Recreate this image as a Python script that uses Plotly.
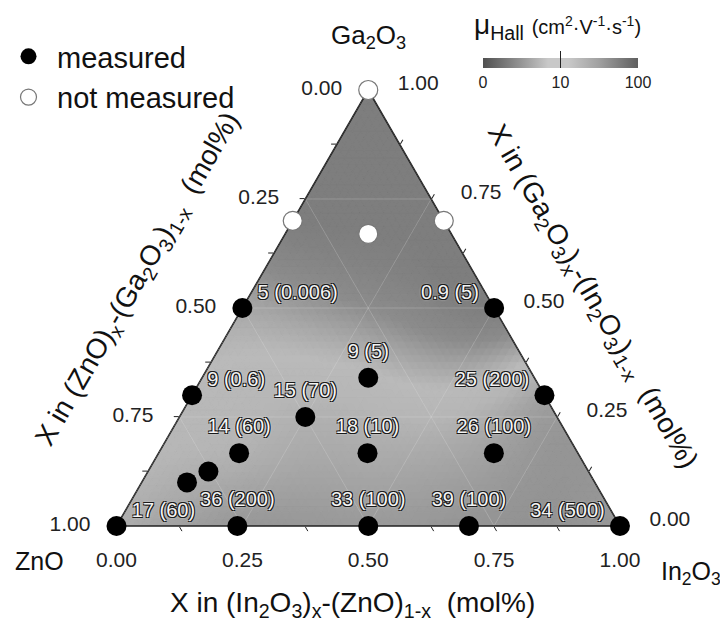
import numpy as np
import plotly.graph_objects as go

# ---------------- data (mole fractions) ----------------
# measured films: Ga2O3 fraction (top vertex) and In2O3 fraction (bottom-right vertex)
meas_ga2o3 = [0.0, 0.0, 0.0, 0.0, 0.0, 0.5, 0.5, 0.3, 0.3, 0.34, 0.25, 0.167, 0.167, 0.167, 0.125, 0.10]
meas_in2o3 = [0.0, 0.24, 0.5, 0.7, 1.0, 0.0, 0.5, 0.0, 0.7, 0.33, 0.25, 0.415, 0.666, 0.16, 0.12, 0.09]
# label values "mu (value)"
mu_hall = [17, 36, 33, 39, 34, 5, 0.9, 9, 25, 9, 15, 18, 26, 14, None, None]
paren_val = [60, 200, 100, 100, 500, 0.006, 5, 0.6, 200, 5, 70, 10, 100, 60, None, None]
label_pos = ["top right", "top center", "top center", "top center", "top left",
             "top right", "top left", "top right", "top left", "top center",
             "top center", "top center", "top center", "top center", "top center", "top center"]

# films that could not be measured
nm_ga2o3 = [1.0, 0.7, 0.7, 0.67]
nm_in2o3 = [0.0, 0.0, 0.3, 0.165]

# axis ticks
tick_vals = [0, 0.125, 0.25, 0.375, 0.5, 0.625, 0.75, 0.875, 1.0]
major_ticks = [0.25, 0.5, 0.75]
labelled_ticks = [0, 0.25, 0.5, 0.75, 1.0]
cbar_vals = [0, 1, 2]
cbar_text = ["0", "10", "100"]

FONT = "Liberation Sans, Arial, sans-serif"
W, H = 720, 615          # figure size (page adds an 8 px body margin)
OFF = 8


def PX(sx):
    return (sx - OFF) / W


def PY(sy):
    return 1 - (sy - OFF) / H


meas_zno = [round(1 - a - c, 4) for a, c in zip(meas_ga2o3, meas_in2o3)]
nm_zno = [round(1 - a - c, 4) for a, c in zip(nm_ga2o3, nm_in2o3)]

# ---------------- colour scales (log10 mu -> gray) ----------------
bar_stops = [(0.0, 80), (0.25, 150), (0.42, 200), (0.55, 200), (0.75, 160), (1.0, 95)]
bar_colorscale = [[p, f"rgb({g},{g},{g})"] for p, g in bar_stops]
map_stops = [(0.0, 126), (0.2, 140), (0.45, 186), (0.55, 182), (0.8, 148), (1.0, 128)]


def gray_of(v):
    t = min(max(v / 2.0, 0.0), 1.0)
    return float(np.interp(t, [p for p, _ in map_stops], [g for _, g in map_stops]))


# ---------------- interpolated mobility map (thin-plate spline on log mu) ----------------
def xy(a, c):
    a = np.asarray(a, float)
    c = np.asarray(c, float)
    return np.stack([c + a / 2.0, a * np.sqrt(3) / 2.0], axis=-1)


src_a, src_c, src_v = [], [], []
for a, c, m in zip(meas_ga2o3, meas_in2o3, mu_hall):
    if m is not None:
        src_a.append(a); src_c.append(c); src_v.append(np.log10(max(m, 1.0)))
for a, c in zip(nm_ga2o3, nm_in2o3):
    src_a.append(a); src_c.append(c); src_v.append(0.0)

P = xy(src_a, src_c)
v = np.array(src_v)
n = len(v)


def tps_kernel(r):
    with np.errstate(divide="ignore", invalid="ignore"):
        k = r ** 2 * np.log(r)
    k[r == 0] = 0.0
    return k


D = np.linalg.norm(P[:, None, :] - P[None, :, :], axis=-1)
K = tps_kernel(D) + 0.002 * np.eye(n)
Pm = np.hstack([np.ones((n, 1)), P])
A = np.zeros((n + 3, n + 3))
A[:n, :n] = K
A[:n, n:] = Pm
A[n:, :n] = Pm.T
coef = np.linalg.solve(A, np.concatenate([v, np.zeros(3)]))


def field(a, c):
    q = xy(a, c).reshape(-1, 2)
    r = np.linalg.norm(q[:, None, :] - P[None, :, :], axis=-1)
    return tps_kernel(r) @ coef[:n] + coef[n] + q @ coef[n + 1:]


N = 64
tris = []
for i in range(N):
    for j in range(N - i):
        tris.append([(i, j), (i + 1, j), (i, j + 1)])
        if i + j <= N - 2:
            tris.append([(i + 1, j), (i + 1, j + 1), (i, j + 1)])

cent_c = np.array([sum(p[0] for p in t) / 3 / N for t in tris])
cent_a = np.array([sum(p[1] for p in t) / 3 / N for t in tris])
vals = field(cent_a, cent_c)
levels = np.round(np.array([gray_of(x) for x in vals]))

fig = go.Figure()

for lev in sorted(set(levels)):
    aa, bb, cc = [], [], []
    for t, l in zip(tris, levels):
        if l != lev:
            continue
        for p in t + [t[0]]:
            ci, ai = p[0] / N, p[1] / N
            aa.append(ai); cc.append(ci); bb.append(1 - ai - ci)
        aa.append(None); bb.append(None); cc.append(None)
    g = int(lev)
    col = f"rgb({g},{g},{g})"
    fig.add_trace(go.Scatterternary(
        a=aa, b=bb, c=cc, mode="lines", fill="toself", fillcolor=col,
        line=dict(color=col, width=0.8), hoverinfo="skip", showlegend=False))

# faint grid lines at the major ticks
grid_a, grid_b, grid_c = [], [], []
for t in major_ticks:
    grid_a += [t, t, None]; grid_b += [1 - t, 0, None]; grid_c += [0, 1 - t, None]
    grid_a += [1 - t, 0, None]; grid_b += [t, t, None]; grid_c += [0, 1 - t, None]
    grid_a += [1 - t, 0, None]; grid_b += [0, 1 - t, None]; grid_c += [t, t, None]
fig.add_trace(go.Scatterternary(
    a=grid_a, b=grid_b, c=grid_c, mode="lines",
    line=dict(color="rgba(235,235,235,0.22)", width=1),
    hoverinfo="skip", showlegend=False))

# triangle frame (drawn above the map, below the points)
corners = [(1, 0, 0), (0, 1, 0), (0, 0, 1), (1, 0, 0)]
fig.add_trace(go.Scatterternary(
    a=[k[0] for k in corners], b=[k[1] for k in corners], c=[k[2] for k in corners],
    mode="lines", line=dict(color="#222", width=1.6), hoverinfo="skip",
    showlegend=False, cliponaxis=False))

# colour bar carrier (invisible marker)
fig.add_trace(go.Scatterternary(
    a=meas_ga2o3[:1], b=meas_zno[:1], c=meas_in2o3[:1], mode="markers",
    marker=dict(size=1, opacity=0, color=[1], cmin=0, cmax=2, colorscale=bar_colorscale,
                showscale=True,
                colorbar=dict(orientation="h", x=PX(560.5), xanchor="center",
                              y=PY(58), yanchor="top", len=155 / W,
                              lenmode="fraction", thickness=10, xpad=0, ypad=0,
                              outlinewidth=0, tickmode="array", tickvals=cbar_vals,
                              ticktext=cbar_text, ticks="inside", ticklen=17,
                              tickwidth=1.2, tickcolor="#222",
                              tickfont=dict(family=FONT, size=16, color="#222"))),
    hoverinfo="skip", showlegend=False))

# measured points
fig.add_trace(go.Scatterternary(
    a=meas_ga2o3, b=meas_zno, c=meas_in2o3, mode="markers", name="measured",
    legendgroup="m", marker=dict(size=20, color="black", line=dict(width=0)),
    cliponaxis=False))

# not measured points
fig.add_trace(go.Scatterternary(
    a=nm_ga2o3, b=nm_zno, c=nm_in2o3, mode="markers", name="not measured",
    legendgroup="n", marker=dict(size=19, color="white", line=dict(width=1.2, color="#777")),
    cliponaxis=False))

# value labels (an invisible marker sets the distance of each label from its point)
NB = "\u00a0"
labels, lab_size = [], []
for m, p, pos in zip(mu_hall, paren_val, label_pos):
    if m is None:
        labels.append(""); lab_size.append(0)
        continue
    txt = f"{m:g} ({p:g})"
    if pos == "top right":
        txt = NB * 2 + txt; lab_size.append(5)
    elif pos == "top left":
        txt = txt + NB * 2; lab_size.append(5)
    else:
        lab_size.append(22)
    labels.append(txt)

fig.add_trace(go.Scatterternary(
    a=meas_ga2o3, b=meas_zno, c=meas_in2o3, mode="markers+text", text=labels,
    textposition=label_pos, marker=dict(size=lab_size, opacity=0),
    showlegend=False, hoverinfo="skip", cliponaxis=False,
    textfont=dict(family=FONT, size=20, color="#f4f4f4",
                  shadow="1px 1px 0 #1a1a1a, -1px -1px 0 #1a1a1a, 1px -1px 0 #1a1a1a, "
                         "-1px 1px 0 #1a1a1a, 0 0 3px #ffffff")))

# bottom tick labels, pushed below the edge by an invisible marker
fig.add_trace(go.Scatterternary(
    a=[0] * len(labelled_ticks), b=[1 - t for t in labelled_ticks], c=labelled_ticks,
    mode="markers+text", text=[f"{t:.2f}" for t in labelled_ticks],
    textposition="bottom center", marker=dict(size=38, opacity=0),
    textfont=dict(family=FONT, size=21, color="#222"),
    showlegend=False, hoverinfo="skip", cliponaxis=False))

ticktext_a = [f"{1 - t:.2f}" + NB * 3 if t in labelled_ticks else "" for t in tick_vals]
ticktext_c = [NB * 4 + f"{1 - t:.2f}" if t in labelled_ticks else "" for t in tick_vals]

axis_common = dict(
    title=dict(text=""), min=0, tickmode="array", tickvals=tick_vals,
    ticks="outside", ticklen=5, tickwidth=1.2, tickcolor="#222",
    showgrid=False, showline=True, linecolor="#222", linewidth=1.6,
    tickfont=dict(family=FONT, size=21, color="#222"), layer="below traces")

fig.update_layout(
    width=W, height=H, margin=dict(l=0, r=0, t=0, b=0, autoexpand=False),
    paper_bgcolor="white",
    ternary=dict(domain=dict(x=[PX(116.5), PX(620)], y=[PY(526), PY(90)]),
                 bgcolor="rgb(150,150,150)", sum=1,
                 aaxis=dict(axis_common, ticktext=ticktext_a),
                 baxis=dict(axis_common, ticktext=[""] * len(tick_vals)),
                 caxis=dict(axis_common, ticktext=ticktext_c)),
    legend=dict(x=-8 / W, y=PY(31), xanchor="left", yanchor="top", itemwidth=47,
                font=dict(family=FONT, size=29, color="#111"), bgcolor="rgba(0,0,0,0)",
                tracegroupgap=0),
    font=dict(family=FONT),
)


def ann(text, sx, sy, size, angle=0):
    fig.add_annotation(text=text, x=PX(sx), y=PY(sy), xref="paper", yref="paper",
                       xanchor="center", yanchor="middle", showarrow=False,
                       textangle=angle, font=dict(family=FONT, size=size, color="#111"))


ann("Ga<sub>2</sub>O<sub>3</sub>", 368, 37, 26)
ann("ZnO", 39, 561, 25)
ann("In<sub>2</sub>O<sub>3</sub>", 691, 573, 25)
ann("X in (In<sub>2</sub>O<sub>3</sub>)<sub>x</sub>-(ZnO)<sub>1-x</sub>  (mol%)", 352, 604, 28)
ann("X in (ZnO)<sub>x</sub>-(Ga<sub>2</sub>O<sub>3</sub>)<sub>1-x</sub>  (mol%)", 138, 280, 28, angle=-60)
ann("X in (Ga<sub>2</sub>O<sub>3</sub>)<sub>x</sub>-(In<sub>2</sub>O<sub>3</sub>)<sub>1-x</sub>  (mol%)", 592, 297, 28, angle=60)
ann("μ<sub>Hall</sub> <span style='font-size:20px'>(cm<sup>2</sup>·V<sup>-1</sup>·s<sup>-1</sup>)</span>",
    557, 27, 28)

fig.write_html("out.html")
